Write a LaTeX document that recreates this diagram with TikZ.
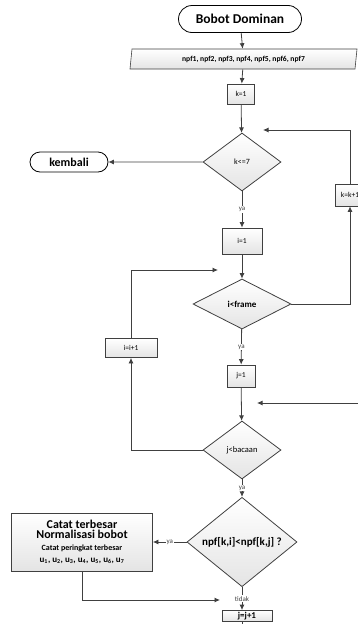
\documentclass[tikz,border=0pt]{standalone}
\usepackage{fontspec}
\setmainfont{Carlito}
\usetikzlibrary{arrows,arrows.meta,shapes.geometric,shapes.misc,positioning}
\definecolor{linegray}{HTML}{404040}
\definecolor{boxgray}{HTML}{E4E4E4}
\tikzstyle{startstop} = [rounded rectangle, draw=black, fill=white, line width=0.8pt, inner sep=0pt, font=\bfseries\fontsize{13.5}{14}\selectfont]
\tikzstyle{io} = [trapezium, trapezium left angle=73, trapezium right angle=107, trapezium stretches body, draw=linegray, top color=white, bottom color=boxgray, line width=0.6pt, inner sep=0pt, font=\bfseries\fontsize{7.6}{8}\selectfont]
\tikzstyle{process} = [rectangle, draw=linegray, top color=white, bottom color=boxgray, line width=0.8pt, inner sep=0pt, font=\fontsize{7.5}{8}\selectfont]
\tikzstyle{decision} = [diamond, draw=linegray, top color=white, bottom color=boxgray, line width=0.8pt, inner sep=0pt, font=\fontsize{8}{9}\selectfont]
\tikzstyle{arrow} = [line width=0.8pt, draw=linegray, ->, >={Latex[length=5.5pt,width=5pt]}]
\tikzstyle{lbl} = [fill=white, inner sep=1pt, text=linegray, font=\fontsize{7}{8}\selectfont]

\begin{document}
\begin{tikzpicture}[x=1pt,y=-1pt]
    \useasboundingbox (0,0) rectangle (358,624);
    % blocks
    \node[startstop, minimum width=123, minimum height=27] (start) at (240,19) {Bobot Dominan};
    \node[io, minimum width=227, minimum height=20] (input) at (243.5,59) {npf1, npf2, npf3, npf4, npf5, npf6, npf7};
    \node[process, minimum width=27, minimum height=20] (k1) at (241,94) {k=1};
    \node[decision, minimum width=78, minimum height=58] (kcheck) at (242,162) {k<=7};
    \node[startstop, minimum width=78, minimum height=20, font=\bfseries\fontsize{12}{13}\selectfont] (kembali) at (69,162) {kembali};
    \node[process, minimum width=40, minimum height=26] (i1) at (242,241) {i=1};
    \node[decision, minimum width=98, minimum height=50, font=\bfseries\fontsize{9}{10}\selectfont] (icheck) at (242,304) {i<frame};
    \node[process, minimum width=30, minimum height=22] (kinc) at (350,195) {k=k+1};
    \node[process, minimum width=28, minimum height=22] (j1) at (241,376) {j=1};
    \node[decision, minimum width=78, minimum height=58, font=\fontsize{8.5}{9}\selectfont] (jcheck) at (242,450) {j<bacaan};
    \node[process, minimum width=52, minimum height=19] (iinc) at (131,348) {i=i+1};
    \node[decision, minimum width=110, minimum height=69, font=\bfseries\fontsize{11}{12}\selectfont] (npf) at (242,542) {npf[k,i]<npf[k,j] ?};
    \node[process, minimum width=141, minimum height=58, align=center, font=\bfseries] (catat) at (82,542)
        {{\fontsize{12}{13}\selectfont Catat terbesar}\\[-1.5pt]
         {\fontsize{12}{13}\selectfont Normalisasi bobot}\\[0pt]
         {\fontsize{8}{9}\selectfont Catat peringkat terbesar}\\[0pt]
         {\fontsize{9}{10}\selectfont u\textsubscript{1}, u\textsubscript{2}, u\textsubscript{3}, u\textsubscript{4}, u\textsubscript{5}, u\textsubscript{6}, u\textsubscript{7}}};
    \node[process, minimum width=50, minimum height=11, font=\bfseries\fontsize{9}{10}\selectfont] (jinc) at (247,616) {j=j+1};
    % loose ends
    \coordinate (kret) at (263,130);
    \coordinate (iret) at (218,270);
    \coordinate (jin) at (362,403);
    \coordinate (jret) at (257,403);
    \coordinate (jnext) at (220,600);
    % connectors
    \draw[arrow] (start) -- (input);
    \draw[arrow] (input) -- (k1);
    \draw[arrow] (k1) -- (kcheck);
    \draw[arrow] (kcheck) -- (kembali);
    \draw[arrow] (kcheck) -- node[lbl]{ya} (i1);
    \draw[arrow] (i1) -- (icheck);
    \draw[arrow] (icheck.east) -| (kinc.south);
    \draw[arrow] (kinc.north) |- (kret);
    \draw[arrow] (icheck) -- node[lbl]{ya} (j1);
    \draw[arrow] (j1) -- (jcheck);
    \draw[arrow] (jin) -- (jret);
    \draw[arrow] (jcheck.west) -| (iinc.south);
    \draw[arrow] (iinc.north) |- (iret);
    \draw[arrow] (jcheck) -- node[lbl]{ya} (npf);
    \draw[arrow] (npf.west) -- node[lbl]{ya} (catat.east);
    \draw[arrow] (catat.south) |- (jnext);
    \draw[arrow] (npf.south) -- node[lbl]{tidak} (npf.south |- jinc.north);
    \draw[line width=0.8pt, linegray] (npf.south |- jinc.south) -- ++(0,6);
\end{tikzpicture}
\end{document}
